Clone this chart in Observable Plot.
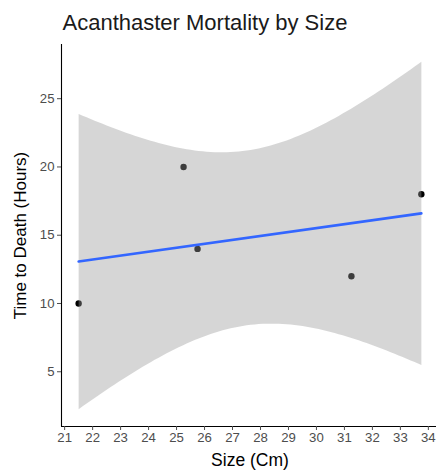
<!DOCTYPE html>
<html>
<head>
<meta charset="utf-8">
<script src="https://cdn.jsdelivr.net/npm/d3@7"></script>
<script src="https://cdn.jsdelivr.net/npm/@observablehq/plot@0.6"></script>
<style>
  html, body { margin: 0; padding: 0; background: #fff; }
  svg { display: block; }
</style>
</head>
<body>
<div id="chart"></div>
<script>
const sizes = [21.5, 25.25, 25.75, 31.25, 33.75];
const hours = [10, 20, 14, 12, 18];
const xTicks = [21, 22, 23, 24, 25, 26, 27, 28, 29, 30, 31, 32, 33, 34];
const yTicks = [5, 10, 15, 20, 25];
const title = "Acanthaster Mortality by Size";
const xTitle = "Size (Cm)";
const yTitle = "Time to Death (Hours)";

const data = sizes.map((s, i) => ({size: s, hours: hours[i]}));

const font = "'Liberation Sans', Arial, Helvetica, sans-serif";

const chart = Plot.plot({
  width: 436,
  height: 472,
  marginLeft: 61,
  marginRight: -2,
  marginTop: 44,
  marginBottom: 46,
  style: {fontFamily: font, background: "#fff"},
  x: {domain: [20.8875, 34.3625]},
  y: {domain: [0.99, 28.97]},
  marks: [
    Plot.dot(data, {x: "size", y: "hours", r: 3.2, fill: "#000", stroke: "none"}),
    Plot.linearRegressionY(data, {x: "size", y: "hours", ci: 0.95, stroke: "#3366FF", strokeWidth: 2.6, fill: "#999999", fillOpacity: 0.4}),
    Plot.ruleX([20.8875], {y1: 0.99, y2: 28.97, stroke: "#000", strokeWidth: 1.1}),
    Plot.ruleY([0.99], {x1: 20.8875, x2: 34.3625, stroke: "#000", strokeWidth: 1.1}),
    Plot.axisX({ticks: xTicks, tickSize: 4, tickPadding: 2, fontSize: 13.2, color: "#4D4D4D", label: null, tickFormat: d => String(d)}),
    Plot.axisY({ticks: yTicks, tickSize: 4, tickPadding: 3, fontSize: 13.2, color: "#4D4D4D", label: null}),
    Plot.text([xTitle], {frameAnchor: "bottom", dy: 34, textAnchor: "middle", lineAnchor: "middle", fontSize: 17.5, fill: "#000"}),
    Plot.text([yTitle], {frameAnchor: "left", dx: -41, rotate: -90, textAnchor: "middle", lineAnchor: "middle", fontSize: 17, fill: "#000"}),
    Plot.text([title], {frameAnchor: "top-left", dx: 1, dy: -22, textAnchor: "start", lineAnchor: "middle", fontSize: 22, fill: "#1a1a1a"})
  ]
});
document.getElementById("chart").appendChild(chart);
</script>
</body>
</html>
